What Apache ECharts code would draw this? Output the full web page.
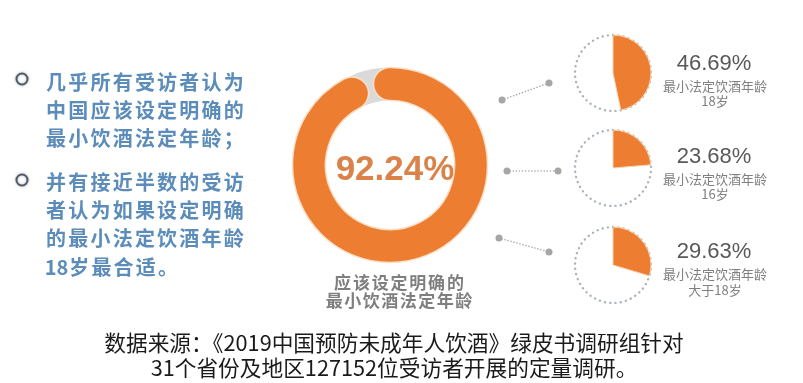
<!DOCTYPE html>
<html>
<head>
<meta charset="utf-8">
<script src="https://cdn.jsdelivr.net/npm/echarts@6/dist/echarts.min.js"></script>
<style>
html,body{margin:0;padding:0;background:#ffffff;}
#main{width:803px;height:383px;}
</style>
</head>
<body>
<div id="main"></div>
<script>
// ---------- data ----------
var mainValue = 92.24;
var mainLabel = ['应该设定明确的', '最小饮酒法定年龄'];
var subValues = [46.69, 23.68, 29.63];
var subLabels = [
  ['最小法定饮酒年龄', '18岁'],
  ['最小法定饮酒年龄', '16岁'],
  ['最小法定饮酒年龄', '大于18岁']
];
var leftBlocks = [
  ['几乎所有受访者认为', '中国应该设定明确的', '最小饮酒法定年龄；'],
  ['并有接近半数的受访', '者认为如果设定明确', '的最小法定饮酒年龄', '18岁最合适。']
];
var sourceLines = [
  '数据来源：《2019中国预防未成年人饮酒》绿皮书调研组针对',
  '31个省份及地区127152位受访者开展的定量调研。'
];

// ---------- styles ----------
var ORANGE = '#ED7D31';
var CJK = '"Noto Sans CJK SC", "Noto Sans", sans-serif';
var LAT = '"Liberation Sans", Arial, "Noto Sans CJK SC", sans-serif';

var chart = echarts.init(document.getElementById('main'), null, {renderer: 'canvas'});

var graphics = [];

// per-character text placement (for letter-spaced text)
function spacedLine(str, x0, y, adv, style, align) {
  var chars = Array.from(str);
  var widths = chars.map(function (c) { return /[\x00-\x7f]/.test(c) ? adv * 0.52 : adv; });
  var total = widths.reduce(function (a, b) { return a + b; }, 0);
  var x = align === 'center' ? x0 - total / 2 : x0;
  chars.forEach(function (c, i) {
    graphics.push({
      type: 'text', silent: true,
      style: Object.assign({text: c, x: x + widths[i] / 2, y: y, textAlign: 'center', textVerticalAlign: 'middle'}, style)
    });
    x += widths[i];
  });
}

// left text blocks
var leftStyle = {font: 'bold 20px ' + CJK, fill: '#5b8cba'};
var blockY = [82, 182];
var bulletY = [79, 180];
leftBlocks.forEach(function (lines, b) {
  graphics.push({
    type: 'circle', silent: true,
    shape: {cx: 22, cy: bulletY[b], r: 5.5},
    style: {fill: '#fff', stroke: '#4d5b6a', lineWidth: 2, shadowBlur: 3, shadowColor: 'rgba(0,0,0,0.25)'}
  });
  lines.forEach(function (ln, i) {
    spacedLine(ln, 45, blockY[b] + i * 28.4, 22.2, leftStyle, 'left');
  });
});

// centre percentage
graphics.push({
  type: 'text', silent: true,
  style: {text: mainValue.toFixed(2) + '%', x: 395, y: 170, textAlign: 'center', textVerticalAlign: 'middle',
    font: 'bold 35px ' + LAT, fill: '#d9834a'}
});
// label under donut
spacedLine(mainLabel[0], 399, 283, 18.8, {font: 'bold 17px ' + CJK, fill: '#7f7f7f'}, 'center');
spacedLine(mainLabel[1], 399, 301, 18.5, {font: 'bold 17px ' + CJK, fill: '#7f7f7f'}, 'center');

// connectors
var connectors = [[[502, 100], [549, 83]], [[507, 171], [558, 171]], [[499, 238], [549, 252]]];
connectors.forEach(function (c) {
  graphics.push({
    type: 'line', silent: true,
    shape: {x1: c[0][0], y1: c[0][1], x2: c[1][0], y2: c[1][1]},
    style: {stroke: '#a6a6a6', lineWidth: 1.5, lineDash: [0.1, 3], lineCap: 'round'}
  });
  c.forEach(function (p) {
    graphics.push({type: 'circle', silent: true, shape: {cx: p[0], cy: p[1], r: 3.5}, style: {fill: '#a6a6a6'}});
  });
});

// small pie labels
var pieCY = [73, 168, 265];
var pctY = [63.5, 156.5, 252];
subValues.forEach(function (v, i) {
  graphics.push({
    type: 'text', silent: true,
    style: {text: v.toFixed(2) + '%', x: 714, y: pctY[i], textAlign: 'center', textVerticalAlign: 'middle',
      font: '22px ' + LAT, fill: '#595959'}
  });
  subLabels[i].forEach(function (t, j) {
    graphics.push({
      type: 'text', silent: true,
      style: {text: t, x: 715, y: pctY[i] + 22.5 + j * 15.5, textAlign: 'center', textVerticalAlign: 'middle',
        font: '13px ' + CJK, fill: '#7f7f7f'}
    });
  });
});

// source lines
sourceLines.forEach(function (t, i) {
  graphics.push({
    type: 'text', silent: true,
    style: {text: t, x: 394, y: 343 + i * 25, textAlign: 'center', textVerticalAlign: 'middle',
      font: '21.7px ' + CJK, fill: '#1a1a1a'}
  });
});

// ---------- series ----------
var series = [{
  type: 'bar',
  coordinateSystem: 'polar',
  data: [mainValue],
  barWidth: 33,
  roundCap: true,
  showBackground: true,
  backgroundStyle: {color: '#dadada'},
  itemStyle: {color: ORANGE, borderColor: '#fbe0c8', borderWidth: 1.5},
  silent: true,
  z: 2
}];

subValues.forEach(function (v, i) {
  series.push({
    type: 'pie',
    center: [613, pieCY[i]],
    radius: [0, 38],
    silent: true,
    label: {show: false}, labelLine: {show: false},
    data: [{value: 1, itemStyle: {color: 'rgba(255,255,255,0)', borderColor: '#aab2bb', borderWidth: 2.4, borderType: [0.1, 5.2], borderCap: 'round'}}],
    z: 1
  });
  series.push({
    type: 'pie',
    center: [613, pieCY[i]],
    radius: [0, 38],
    startAngle: 90,
    clockwise: true,
    silent: true,
    label: {show: false}, labelLine: {show: false},
    data: [
      {value: v, itemStyle: {color: ORANGE, borderColor: '#f9d3ae', borderWidth: 1}},
      {value: +(100 - v).toFixed(2), itemStyle: {color: 'rgba(255,255,255,0)', borderWidth: 0}}
    ],
    z: 3
  });
});

chart.setOption({
  animation: false,
  backgroundColor: '#ffffff',
  polar: {center: [390, 165], radius: [64.5, 97.5]},
  angleAxis: {type: 'value', min: 0, max: 100, startAngle: 90, clockwise: true, show: false},
  radiusAxis: {type: 'category', data: ['应该设定'], show: false},
  series: series,
  graphic: graphics
});
</script>
</body>
</html>
